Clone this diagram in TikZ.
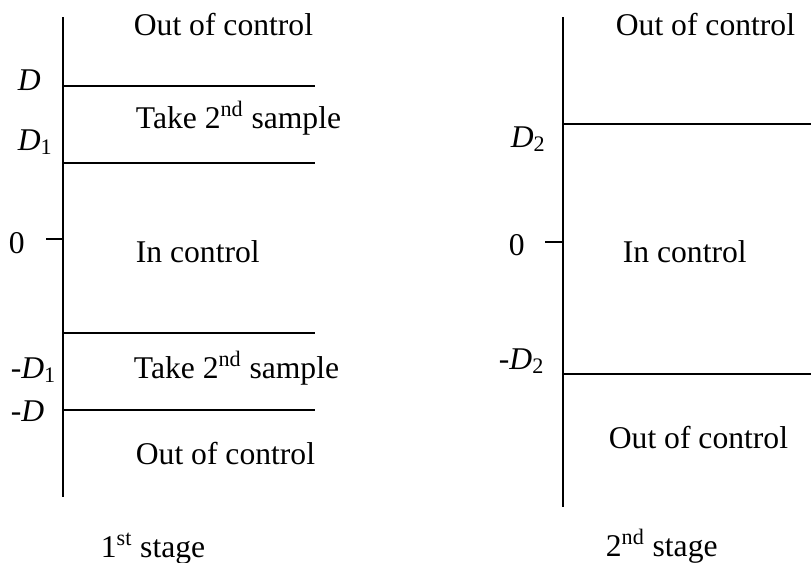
\documentclass[tikz,border=0pt]{standalone}
\usepackage{fontspec}
\setmainfont{Liberation Serif}

\begin{document}
\begin{tikzpicture}[x=0.02cm, y=-0.02cm, line width=1pt,
	lbl/.style={anchor=base west, inner sep=0pt, font=\fontsize{18}{21}\selectfont}]
	\useasboundingbox (0,0) rectangle (811,562);
	% 1st stage
	\coordinate (ta) at (63, 17);
	\coordinate (ba) at (63, 497);
	\coordinate (da) at (63, 86);
	\coordinate (db) at (315, 86);
	\coordinate (ea) at (63, 163);
	\coordinate (eb) at (315, 163);
	\coordinate (fa) at (63, 333);
	\coordinate (fb) at (315, 333);
	\coordinate (ga) at (63, 410);
	\coordinate (gb) at (315, 410);
	\coordinate (za) at (63, 239);
	\coordinate (zb) at (46, 239);
	\draw (ta) to (ba);
	\draw (da) to (db);
	\draw (ea) to (eb);
	\draw (fa) to (fb);
	\draw (ga) to (gb);
	\draw (zb) to (za);
	\node[lbl] (oa) at (133, 35) {Out of control};
	\node[lbl] (dl) at (17, 90) {\textit{D}};
	\node[lbl] (dal) at (17, 150) {\textit{D}\textsubscript{1}};
	\node[lbl] (sa) at (135, 128) {Take 2\textsuperscript{nd} sample};
	\node[lbl] (zl) at (8, 253) {0};
	\node[lbl] (ia) at (135, 262) {In control};
	\node[lbl] (mdal) at (10, 378) {-\textit{D}\textsubscript{1}};
	\node[lbl] (sb) at (133, 378) {Take 2\textsuperscript{nd} sample};
	\node[lbl] (mdl) at (10, 421) {-\textit{D}};
	\node[lbl] (ob) at (135, 464) {Out of control};
	\node[lbl] (sta) at (100, 557) {1\textsuperscript{st} stage};
	% 2nd stage
	\coordinate (tb) at (563, 17);
	\coordinate (bb) at (563, 507);
	\coordinate (ha) at (563, 124);
	\coordinate (hb) at (811, 124);
	\coordinate (ka) at (563, 374);
	\coordinate (kb) at (811, 374);
	\coordinate (zc) at (563, 242);
	\coordinate (zd) at (545, 242);
	\draw (tb) to (bb);
	\draw (ha) to (hb);
	\draw (ka) to (kb);
	\draw (zd) to (zc);
	\node[lbl] (oc) at (615, 35) {Out of control};
	\node[lbl] (dbl) at (510, 147) {\textit{D}\textsubscript{2}};
	\node[lbl] (zr) at (508, 255) {0};
	\node[lbl] (ib) at (622, 262) {In control};
	\node[lbl] (mdbl) at (498, 369) {-\textit{D}\textsubscript{2}};
	\node[lbl] (od) at (608, 448) {Out of control};
	\node[lbl] (stb) at (605, 556) {2\textsuperscript{nd} stage};
\end{tikzpicture}
\end{document}
